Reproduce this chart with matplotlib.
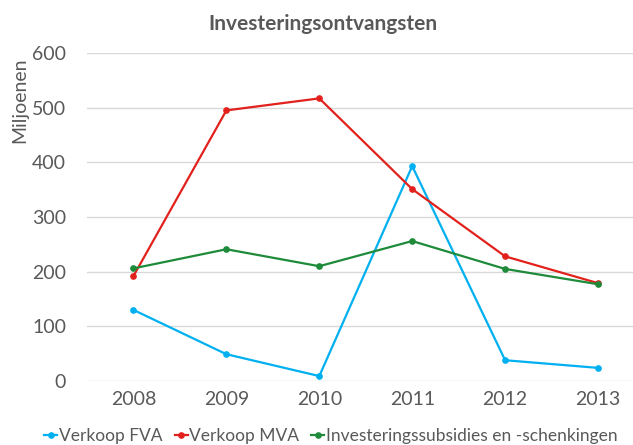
import matplotlib
matplotlib.use("Agg")
import matplotlib.pyplot as plt

years = ["2008", "2009", "2010", "2011", "2012", "2013"]
verkoop_fva = [130, 49, 9, 393, 38, 24]
verkoop_mva = [192, 495, 517, 351, 228, 179]
subsidies = [206, 241, 210, 256, 205, 177]
series_names = ["Verkoop FVA", "Verkoop MVA", "Investeringssubsidies en -schenkingen"]
colors = ["#00B0F0", "#E3211C", "#1E8B3A"]

plt.rcParams['font.family'] = ['Lato', 'DejaVu Sans']
fig = plt.figure(figsize=(6.33, 4.45), dpi=100)
ax = fig.add_axes([87/633, 1-381/445, (644.5-87)/633, (381-53)/445])

x = range(len(years))
for vals, name, c in zip([verkoop_fva, verkoop_mva, subsidies], series_names, colors):
    ax.plot(x, vals, color=c, lw=1.6, marker='o', ms=3.8, label=name)

ax.set_ylim(0, 600)
ax.set_xlim(-0.5, 5.5)
ax.set_yticks(range(0, 601, 100))
ax.set_xticks(list(x))
ax.set_xticklabels(years)
ax.grid(axis='y', color='#D9D9D9', lw=1)
ax.set_axisbelow(True)
for s in ax.spines.values():
    s.set_visible(False)
ax.tick_params(axis='both', length=0, labelsize=14, colors='#595959')
ax.tick_params(axis='y', pad=15)
ax.tick_params(axis='x', pad=7)

fig.text(323/633, 1-24/445, "Investeringsontvangsten", ha='center', va='center',
         fontsize=15, fontweight='bold', color='#595959')
fig.text(20/633, 1-100/445, "Miljoenen", rotation=90, ha='center', va='center',
         fontsize=14, color='#595959')

leg = fig.legend(loc='center', bbox_to_anchor=(331/633, 1-436/445), ncol=3, frameon=False,
                 fontsize=12.5, handlelength=0.75, handletextpad=0.1, columnspacing=0.7,
                 borderpad=0)
for t in leg.get_texts():
    t.set_color('#595959')

fig.savefig("out.png", dpi=100)
